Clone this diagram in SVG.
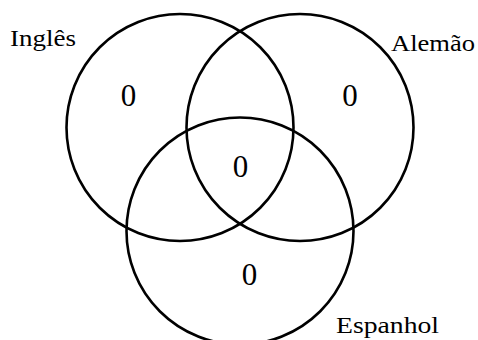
<svg xmlns="http://www.w3.org/2000/svg" width="478" height="340" viewBox="0 0 478 340">
<style>
.c{fill:none;stroke:#000;stroke-width:2.6}
.lbl{font-family:"Liberation Serif","DejaVu Serif",serif;font-size:24px;fill:#000}
.num{font-family:"Liberation Serif","DejaVu Serif",serif;font-size:31px;fill:#000;text-anchor:middle}
</style>
<rect width="478" height="340" fill="#fff"/>
<g id="ingles">
<circle class="c" cx="180" cy="127.5" r="113.5"/>
<text class="lbl" x="10" y="46" textLength="66" lengthAdjust="spacingAndGlyphs">Inglês</text>
<text class="num" x="128.5" y="106">0</text>
</g>
<g id="alemao">
<circle class="c" cx="300" cy="127.5" r="113.5"/>
<text class="lbl" x="391" y="51" textLength="84" lengthAdjust="spacingAndGlyphs">Alemão</text>
<text class="num" x="350" y="106">0</text>
</g>
<g id="espanhol">
<circle class="c" cx="240" cy="231" r="113.5"/>
<text class="lbl" x="336" y="333" textLength="103" lengthAdjust="spacingAndGlyphs">Espanhol</text>
<text class="num" x="249.5" y="285">0</text>
</g>
<g id="centro">
<text class="num" x="240.5" y="177">0</text>
</g>
</svg>
